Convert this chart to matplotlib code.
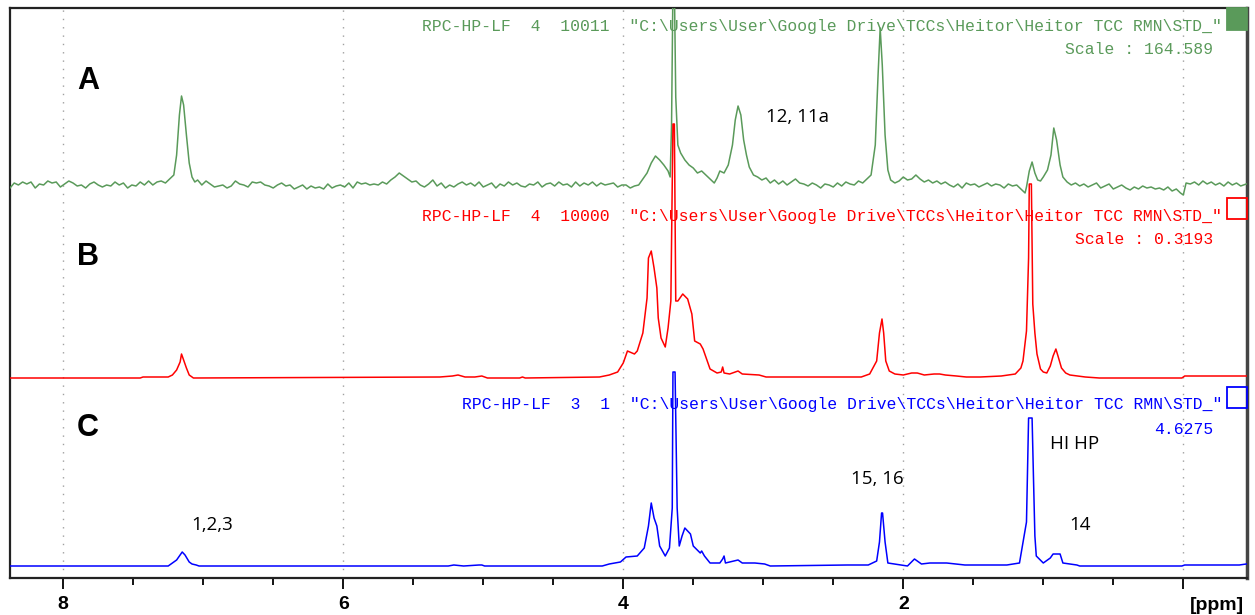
import numpy as np
import matplotlib
matplotlib.use('Agg')
import matplotlib.pyplot as plt
from matplotlib.patches import Rectangle

# spectrum traces: chemical shift [ppm] and height above baseline
a_ppm = [8.38, 8.35, 8.32, 8.29, 8.26, 8.23, 8.20, 8.17, 8.14, 8.11, 8.08, 8.05, 8.02, 7.99, 7.96,
         7.93, 7.90, 7.87, 7.84, 7.81, 7.78, 7.75, 7.72, 7.69, 7.66, 7.63, 7.60, 7.57, 7.54, 7.51,
         7.48, 7.45, 7.42, 7.39, 7.36, 7.33, 7.30, 7.27, 7.24, 7.21, 7.19, 7.17, 7.155, 7.14, 7.12,
         7.10, 7.08, 7.06, 7.04, 7.01, 6.98, 6.95, 6.92, 6.89, 6.86, 6.83, 6.80, 6.77, 6.74, 6.71,
         6.68, 6.65, 6.62, 6.59, 6.56, 6.53, 6.50, 6.47, 6.44, 6.41, 6.38, 6.35, 6.32, 6.29, 6.26,
         6.23, 6.20, 6.17, 6.14, 6.11, 6.08, 6.05, 6.02, 5.99, 5.96, 5.93, 5.90, 5.87, 5.84, 5.81,
         5.78, 5.75, 5.72, 5.69, 5.66, 5.63, 5.60, 5.57, 5.54, 5.51, 5.48, 5.45, 5.42, 5.39, 5.36,
         5.33, 5.30, 5.27, 5.24, 5.21, 5.18, 5.15, 5.12, 5.09, 5.06, 5.03, 5.00, 4.97, 4.94, 4.91,
         4.88, 4.85, 4.82, 4.79, 4.76, 4.73, 4.70, 4.67, 4.64, 4.61, 4.58, 4.55, 4.52, 4.49, 4.46,
         4.43, 4.40, 4.37, 4.34, 4.31, 4.28, 4.25, 4.22, 4.19, 4.16, 4.13, 4.10, 4.07, 4.04, 4.01,
         3.98, 3.95, 3.92, 3.89, 3.86, 3.83, 3.80, 3.77, 3.74, 3.71, 3.68, 3.665, 3.655, 3.645, 3.635,
         3.625, 3.61, 3.59, 3.56, 3.53, 3.50, 3.47, 3.44, 3.41, 3.38, 3.35, 3.33, 3.31, 3.28, 3.25,
         3.22, 3.20, 3.18, 3.16, 3.14, 3.12, 3.10, 3.07, 3.04, 3.01, 2.98, 2.95, 2.92, 2.89, 2.86,
         2.83, 2.80, 2.77, 2.74, 2.71, 2.68, 2.65, 2.62, 2.59, 2.56, 2.53, 2.50, 2.47, 2.44, 2.41,
         2.38, 2.35, 2.32, 2.29, 2.26, 2.23, 2.20, 2.18, 2.165, 2.15, 2.13, 2.11, 2.09, 2.06, 2.03,
         2.00, 1.97, 1.94, 1.91, 1.88, 1.85, 1.82, 1.79, 1.76, 1.73, 1.70, 1.67, 1.64, 1.61, 1.58,
         1.55, 1.52, 1.49, 1.46, 1.43, 1.40, 1.37, 1.34, 1.31, 1.28, 1.25, 1.22, 1.19, 1.16, 1.13,
         1.12, 1.10, 1.08, 1.06, 1.04, 1.02, 1.00, 0.97, 0.945, 0.925, 0.905, 0.88, 0.86, 0.83, 0.80,
         0.77, 0.74, 0.71, 0.68, 0.65, 0.62, 0.59, 0.56, 0.53, 0.50, 0.47, 0.44, 0.41, 0.38, 0.35,
         0.32, 0.29, 0.26, 0.23, 0.20, 0.17, 0.14, 0.11, 0.08, 0.05, 0.02, 0.00, -0.02, -0.05, -0.08,
         -0.11, -0.14, -0.17, -0.20, -0.23, -0.26, -0.29, -0.32, -0.35, -0.38, -0.41, -0.45]
a_int = [-3, 2, 0, 3, 1, 3, -3, 1, 0, 4, 2, 3, -2, 1, 4,
         2, -1, 0, -3, 1, 3, 0, -2, 0, -1, 3, 0, 2, -3, 0,
         -1, 3, 0, 4, 0, 3, 4, 2, 6, 10, 30, 70, 89, 80, 50,
         22, 8, 3, 5, 0, 4, 1, -2, -1, 0, -3, -1, 4, 1, 0,
         -2, 3, 2, 3, 0, -1, -3, 0, 2, -1, 0, -4, -2, 0, -4,
         -1, -3, -2, -4, 1, -3, -1, 0, -2, 2, -3, 3, 1, 2, 0,
         1, 0, 3, 1, 5, 8, 12, 9, 6, 3, 4, 0, -2, 1, 5,
         -1, 2, -3, 0, -2, 1, 3, 0, 2, -1, 3, -2, 0, 2, -3,
         1, -1, 3, 0, 2, -1, -2, 1, 0, 3, -2, 1, 2, -1, 3,
         0, 1, -2, 3, -1, 2, 0, 3, -1, 2, 0, 1, 2, -2, 0,
         0, -3, -1, 0, 6, 12, 22, 29, 25, 20, 14, 8, 60, 200, 200,
         88, 40, 32, 25, 20, 17, 12, 14, 10, 6, 2, 7, 14, 12, 20,
         40, 65, 79, 70, 45, 30, 18, 10, 8, 5, 7, 2, 5, 1, 4,
         0, 3, 6, 2, 1, -1, 2, 0, -3, 1, 0, -2, 2, -1, 3,
         1, 0, 4, 2, 6, 10, 40, 110, 157, 120, 50, 15, 5, 2, 4,
         8, 5, 6, 10, 6, 3, 5, 2, 4, 1, 3, 0, -2, 1, -3,
         2, 0, 1, -2, 0, 2, -1, 1, 0, -3, 1, -1, 0, -4, -8,
         -2, 14, 23, 12, 5, 4, 8, 15, 30, 57, 45, 20, 8, 3, 0,
         2, -1, 1, -2, 0, 2, -3, -1, 1, -4, -2, 0, -3, -5, -2,
         -4, -1, -3, -2, -4, -3, -5, -2, -6, -4, -8, -10, 2, 1, 3,
         0, 4, 1, 3, 0, 2, -1, 3, 0, 2, -1, 1]

b_ppm = [8.38, 7.45, 7.43, 7.25, 7.22, 7.19, 7.165, 7.155, 7.14, 7.12, 7.10, 7.08, 7.07,
         5.31, 5.22, 5.18, 5.13, 5.06, 5.01, 4.97, 4.74, 4.72, 4.70,
         4.17, 4.10, 4.04, 4.00, 3.97, 3.92, 3.90, 3.86, 3.83, 3.82, 3.80, 3.78, 3.76, 3.75,
         3.73, 3.70, 3.68, 3.66, 3.645, 3.635, 3.625, 3.61, 3.575, 3.54, 3.51, 3.49, 3.45,
         3.43, 3.40, 3.38, 3.33, 3.30, 3.29, 3.28, 3.24, 3.18, 3.15, 3.03, 2.98,
         2.30, 2.24, 2.19, 2.17, 2.152, 2.14, 2.125, 2.10, 2.06, 2.00, 1.94, 1.90, 1.85,
         1.78, 1.74, 1.70, 1.62, 1.55, 1.45, 1.30, 1.20, 1.16, 1.145, 1.12, 1.105, 1.10,
         1.085, 1.075, 1.06, 1.045, 1.02, 1.00, 0.975, 0.95, 0.93, 0.91, 0.895, 0.87, 0.84,
         0.81, 0.70, 0.60, 0.01, -0.01, -0.45]
b_int = [0, 0, 1, 1, 3, 8, 16, 24, 18, 10, 3, 1, 0,
         1, 2, 3, 1, 1, 2, 0, 0, 1, 0,
         1, 3, 6, 15, 27, 24, 27, 45, 80, 120, 127, 110, 90, 60,
         40, 31, 50, 77, 254, 254, 77, 77, 84, 79, 64, 37, 34,
         29, 17, 9, 5, 6, 11, 5, 4, 7, 4, 3, 1,
         1, 4, 17, 45, 59, 45, 17, 7, 4, 3, 5, 5, 3,
         4, 4, 3, 2, 1, 1, 2, 4, 10, 17, 47, 120, 194,
         194, 74, 45, 24, 9, 6, 5, 12, 22, 29, 22, 10, 5,
         3, 1, 0, 0, 2, 2]

c_ppm = [8.38, 7.25, 7.23, 7.19, 7.16, 7.15, 7.13, 7.10, 7.08, 7.05, 7.03,
         5.25, 5.21, 5.14, 5.03, 5.01, 4.99,
         4.15, 4.10, 4.02, 3.98, 3.90, 3.85, 3.82, 3.80, 3.78, 3.76, 3.74, 3.70, 3.67, 3.65,
         3.645, 3.63, 3.615, 3.60, 3.58, 3.56, 3.52, 3.50, 3.45, 3.44, 3.42, 3.38, 3.31,
         3.29, 3.28, 3.27, 3.18, 3.15, 3.06, 2.99, 2.95,
         2.40, 2.25, 2.19, 2.17, 2.155, 2.148, 2.13, 2.11, 1.97, 1.92, 1.87, 1.81,
         1.69, 1.56, 1.26, 1.17, 1.12, 1.105, 1.08, 1.07, 1.06, 1.05, 1.00, 0.95,
         0.93, 0.88, 0.86, 0.76, 0.74, 0.01, -0.01, -0.40, -0.45]
c_int = [0, 0, 2, 6, 12, 14, 11, 4, 2, 1, 0,
         0, 1, 0, 1, 1, 0,
         0, 2, 4, 9, 10, 18, 40, 63, 48, 40, 20, 10, 18, 58,
         194, 194, 58, 20, 30, 38, 32, 20, 13, 15, 10, 3, 3,
         7, 10, 3, 6, 3, 3, 2, 0,
         1, 1, 5, 24, 53, 53, 24, 3, 0, 7, 2, 3,
         3, 1, 1, 3, 44, 148, 148, 88, 30, 10, 3, 8,
         12, 12, 3, 1, 0, 0, 1, 1, 2]

labels = ['A', 'B', 'C']
headers = ['RPC-HP-LF  4  10011  "C:\\Users\\User\\Google Drive\\TCCs\\Heitor\\Heitor TCC RMN\\STD_"',
           'RPC-HP-LF  4  10000  "C:\\Users\\User\\Google Drive\\TCCs\\Heitor\\Heitor TCC RMN\\STD_"',
           'RPC-HP-LF  3  1  "C:\\Users\\User\\Google Drive\\TCCs\\Heitor\\Heitor TCC RMN\\STD_"']
scales = ['Scale : 164.589', 'Scale : 0.3193', '4.6275']
colors = ['#5a9a5a', '#ff0000', '#0000ff']
xticks_major = [8, 6, 4, 2, 0]
xtick_labels = ['8', '6', '4', '2', '']

W, H = 1255, 615
fig = plt.figure(figsize=(W / 100, H / 100), dpi=100)
ax = fig.add_axes([10 / W, 1 - 578 / H, 1237 / W, 570 / H])

# baselines of the stacked traces, in pixels above the bottom spine
offsets = [393, 200, 12]
traces = [(a_ppm, a_int), (b_ppm, b_int), (c_ppm, c_int)]
for (xs, ys), off, col in zip(traces, offsets, colors):
    ax.plot(xs, np.array(ys) + off, color=col, lw=1.1, zorder=3)

ax.set_xlim(8.38, -0.455)
ax.set_ylim(0, 570)
ax.set_yticks([])
ax.set_xticks(xticks_major)
ax.set_xticklabels(xtick_labels, fontsize=14, fontweight='bold', family='Liberation Sans')
ax.set_xticks(np.arange(-0.0, 8.4, 0.5), minor=True)
ax.tick_params(axis='x', which='major', length=8, width=1.3, pad=5)
ax.tick_params(axis='x', which='minor', length=5, width=1.3)
for xg in xticks_major:
    ax.axvline(xg, color='#a0a0a0', lw=1.0, ls=(0, (1, 5)), zorder=1)

for s in ['left', 'bottom', 'top']:
    ax.spines[s].set_linewidth(1.6)
    ax.spines[s].set_color('#222222')
ax.spines['right'].set_linewidth(2.5)
ax.spines['right'].set_color('#444444')


def fx(px):
    return px / W


def fy(py):
    return 1 - py / H


mono = 'Liberation Mono'
head_y = [27, 217, 405]
scale_y = [50, 240, 429]
letter_y = [81, 257, 428]
box_y = [(8, 30), (198, 219), (387, 408)]
for i in range(3):
    fig.text(fx(1222), fy(head_y[i]), headers[i], color=colors[i], family=mono,
             fontsize=11.8, ha='right', va='center')
    fig.text(fx(1213), fy(scale_y[i]), scales[i], color=colors[i], family=mono,
             fontsize=11.8, ha='right', va='center')
    fig.text(fx(88), fy(letter_y[i]), labels[i], fontsize=22, fontweight='bold',
             family='Liberation Sans', ha='center', va='center')
    y0, y1 = box_y[i]
    fig.patches.append(Rectangle((fx(1227), fy(y1)), 20 / W, (y1 - y0) / H,
                                 transform=fig.transFigure, lw=1.3,
                                 edgecolor=colors[i],
                                 facecolor=colors[i] if i == 0 else 'none'))

notes = [('12, 11a', 797, 117), ('1,2,3', 212, 525), ('15, 16', 877, 479),
         ('HI HP', 1075, 444), ('14', 1080, 525)]
for txt, px, py in notes:
    fig.text(fx(px), fy(py), txt, fontsize=13.5, family='Open Sans',
             ha='center', va='center')

fig.text(fx(1217), fy(605), '[ppm]', fontsize=14, fontweight='bold',
         family='Liberation Sans', ha='center', va='center')

fig.savefig('out.png', dpi=100)
